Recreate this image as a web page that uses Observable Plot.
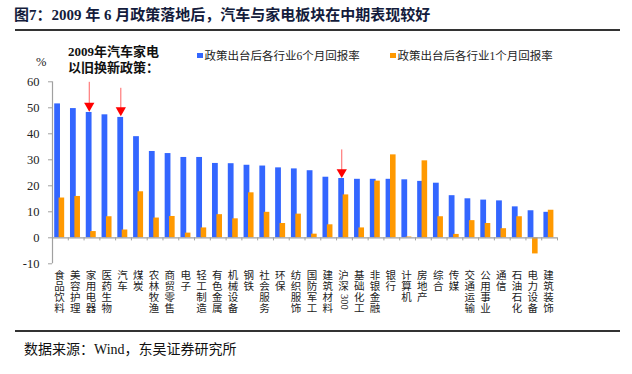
<!DOCTYPE html>
<html><head><meta charset="utf-8">
<script src="https://cdn.jsdelivr.net/npm/d3@7"></script>
<script src="https://cdn.jsdelivr.net/npm/@observablehq/plot@0.6"></script>
<style>
html,body{margin:0;padding:0;background:#fff;}
#wrap{position:relative;width:632px;height:374px;font-family:"Liberation Serif","Noto Sans CJK SC",serif;overflow:hidden;}
#wrap svg{position:absolute;left:0;top:0;}
.abs{position:absolute;white-space:nowrap;}
</style></head>
<body><div id="wrap"></div>
<script>
const categories = ["食品饮料","美容护理","家用电器","医药生物","汽车","煤炭","农林牧渔","商贸零售","电子","轻工制造","有色金属","机械设备","钢铁","社会服务","环保","纺织服饰","国防军工","建筑材料","沪深300","基础化工","非银金融","银行","计算机","房地产","综合","传媒","交通运输","公用事业","通信","石油石化","电力设备","建筑装饰"];
const sixMonth = [51.5,49.7,48.2,47.3,46.3,38.9,33.2,32.4,30.9,30.9,28.6,28.5,27.9,27.6,26.9,26.5,25.8,23.3,22.8,22.5,22.5,22.5,22.3,21.7,21.0,16.2,15.0,14.5,14.2,11.9,10.4,9.8];
const oneMonth = [15.3,15.9,2.4,8.1,3.0,17.7,7.6,8.2,1.8,3.8,8.9,7.3,17.3,9.8,5.5,9.1,1.4,5.0,16.5,3.8,21.8,31.9,0.3,29.6,8.1,1.3,6.6,5.5,3.5,8.1,-6.2,10.6];
const yTicks = [-10,0,10,20,30,40,50,60];
const seriesNames = ["政策出台后各行业6个月回报率","政策出台后各行业1个月回报率"];
const seriesColors = ["#3366ff","#ff9900"];
const arrowCats = ["家用电器","汽车","沪深300"];
const arrowTop = [59.8,57.5,33.8];
const arrowTip = [49.0,47.3,23.5];
const titleText = "图7：2009 年 6 月政策落地后，汽车与家电板块在中期表现较好";
const noteLines = ["2009年汽车家电","以旧换新政策："];
const sourceText = "数据来源：Wind，东吴证券研究所";

const data = categories.map((c,i)=>({cat:c, six:sixMonth[i], one:oneMonth[i]}));
const arrows = arrowCats.map((c,i)=>({cat:c, top:arrowTop[i], tip:arrowTip[i]}));
const half = 505/32/2;
const vert = d => d === "沪深300" ? "沪\n深" : d.split("").join("\n");

const chart = Plot.plot({
  width: 632, height: 374,
  marginLeft: 52, marginRight: 75, marginTop: 81.3, marginBottom: 110.7,
  x: {type: "band", domain: categories, paddingInner: 0, paddingOuter: 0, round: false, axis: null},
  y: {domain: [-10, 60], axis: null},
  style: {fontFamily: '"Liberation Serif","Noto Sans CJK SC",serif', color: "#222", background: "transparent"},
  marks: [
    Plot.barY(data, {x: "cat", y: "six", fill: seriesColors[0], insetLeft: 2.2, insetRight: 7.8}),
    Plot.barY(data, {x: "cat", y: "one", fill: seriesColors[1], insetLeft: 6.6, insetRight: 3.6}),
    Plot.ruleY([0], {stroke: "#a0a0a0", strokeWidth: 1.2}),
    Plot.ruleX([categories[0]], {y1: -10, y2: 60, dx: -half, stroke: "#a0a0a0", strokeWidth: 1.2}),
    Plot.ruleX(categories, {x: d => d, y1: 0, y2: -1.2, dx: -half, stroke: "#a0a0a0"}),
    Plot.ruleX([categories[categories.length-1]], {x: d => d, y1: 0, y2: -1.2, dx: half, stroke: "#a0a0a0"}),
    Plot.axisY({ticks: yTicks, tickFormat: d => String(d), tickSize: 4, tickPadding: 9, fontSize: 12.5, stroke: "#a0a0a0", label: null}),
    Plot.axisX({tickFormat: vert, tickSize: 0, tickPadding: 7, fontSize: 10.5, lineHeight: 1.05, dx: -1, label: null}),
    Plot.text(["300"], {x: () => "沪深300", y: -10, dy: 38, rotate: 90, fontSize: 10.5, text: d => d}),
    Plot.ruleX(arrows, {x: "cat", y1: "top", y2: "tip", dx: -2.7, stroke: "#ff6060", strokeWidth: 1}),
    Plot.dot(arrows, {x: "cat", y: "tip", dx: -2.7, dy: -4.6, symbol: "triangle", rotate: 180, r: 3.8, fill: "#ff0000", stroke: "none"})
  ]
});
const wrap = document.getElementById("wrap");
wrap.appendChild(chart);

function add(html, css){ const d=document.createElement("div"); d.className="abs"; d.innerHTML=html; Object.assign(d.style, css); wrap.appendChild(d); return d; }
add(titleText, {left:"14px", top:"3px", fontSize:"15px", fontWeight:"bold", color:"#141c3c"});
add("", {left:"15px", top:"29px", width:"605px", height:"2px", background:"#333"});
add("%", {left:"36px", top:"55px", fontSize:"12.5px", color:"#222"});
add(noteLines.join("<br>"), {left:"68px", top:"44px", fontSize:"13px", fontWeight:"bold", lineHeight:"15.5px", color:"#111"});
const legX = [197, 390];
seriesNames.forEach((n,i)=>{
  add("", {left:legX[i]+"px", top:"52.5px", width:"5.5px", height:"5.5px", background:seriesColors[i]});
  add(n, {left:(legX[i]+7.5)+"px", top:"47px", fontSize:"11.5px", color:"#222"});
});
add("", {left:"15px", top:"329.5px", width:"605px", height:"2px", background:"#333"});
add(sourceText, {left:"24px", top:"338px", fontSize:"14px", color:"#111"});
</script></body></html>
